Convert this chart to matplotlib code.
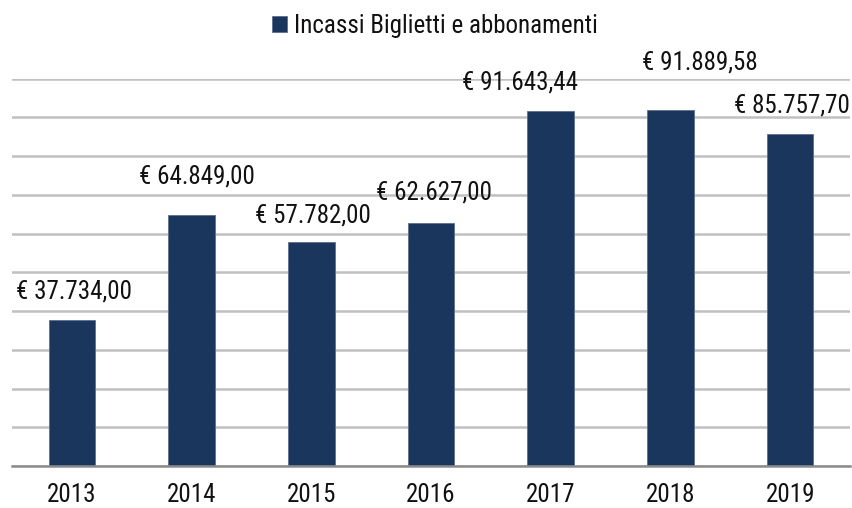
import numpy as np
import matplotlib.pyplot as plt

# data
years = ["2013", "2014", "2015", "2016", "2017", "2018", "2019"]
incassi = [37734.00, 64849.00, 57782.00, 62627.00, 91643.44, 91889.58, 85757.70]
labels = ["€ 37.734,00", "€ 64.849,00", "€ 57.782,00", "€ 62.627,00",
          "€ 91.643,44", "€ 91.889,58", "€ 85.757,70"]

# label nudges in pixels (dx, dy above bar top), as placed in the original
nudges = [(2, 21), (5, 31), (2, 20), (3, 24), (-31, 21), (29, 40), (2, 21)]

plt.rcParams['font.family'] = ['Roboto Condensed', 'Liberation Sans', 'DejaVu Sans']

BAR = "#1B365D"
FS = 18

fig = plt.figure(figsize=(8.53, 5.08), dpi=100)
ax = fig.add_axes([12 / 853, 42 / 508, 838 / 853, 387.5 / 508])

x = np.arange(len(years))
ax.bar(x, incassi, width=0.39, color=BAR, edgecolor="#5A7090", linewidth=0.6,
       label="Incassi Biglietti e abbonamenti", zorder=3)

for xi, v, lab, (dx, dy) in zip(x, incassi, labels, nudges):
    ax.annotate(lab, (xi, v), xytext=(dx, dy), textcoords="offset pixels",
                ha="center", va="baseline", fontsize=FS, color="#111111",
                annotation_clip=False)

ax.set_xlim(-0.5, len(years) - 0.5)
ax.set_ylim(0, 100000)
ax.set_yticks(np.arange(0, 100001, 10000))
ax.yaxis.grid(True, color="#C0C0C0", linewidth=1.8, zorder=0)
ax.set_yticklabels([])
ax.tick_params(axis="y", length=0)
ax.tick_params(axis="x", length=0, pad=12, labelsize=FS, labelcolor="#111111")
ax.set_xticks(x)
ax.set_xticklabels(years)

for s in ["left", "right", "top"]:
    ax.spines[s].set_visible(False)
ax.spines["bottom"].set_color("#8C8C8C")
ax.spines["bottom"].set_linewidth(1.8)
ax.spines["bottom"].set_zorder(4)

leg = fig.legend(loc="center", bbox_to_anchor=(435 / 853, 1 - 26 / 508), frameon=False,
                 fontsize=FS, handlelength=0.6, handleheight=0.6, handletextpad=0.3)
for t in leg.get_texts():
    t.set_color("#111111")

fig.savefig("out.png", dpi=100)
